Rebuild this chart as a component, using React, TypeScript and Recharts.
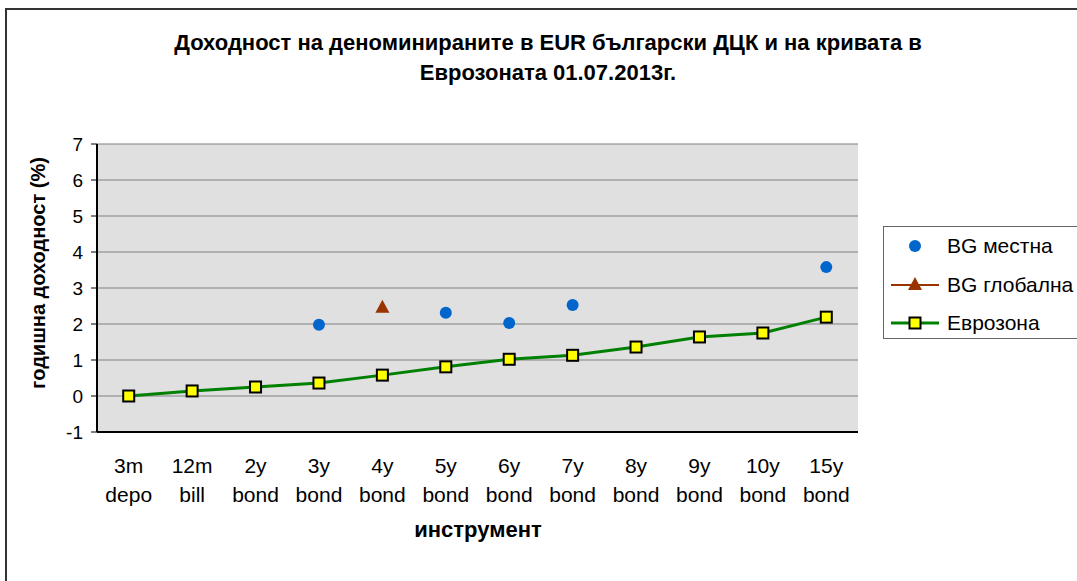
import React from "react";
import { LineChart, Line, XAxis, YAxis, CartesianGrid } from "recharts";

const tickTop = ["3m", "12m", "2y", "3y", "4y", "5y", "6y", "7y", "8y", "9y", "10y", "15y"];
const tickBottom = ["depo", "bill", "bond", "bond", "bond", "bond", "bond", "bond", "bond", "bond", "bond", "bond"];

const bgLocal = [null, null, null, 1.98, null, 2.31, 2.03, 2.53, null, null, null, 3.58];
const bgGlobal = [null, null, null, null, 2.45, null, null, null, null, null, null, null];
const eurozone = [0.0, 0.14, 0.25, 0.36, 0.58, 0.81, 1.02, 1.13, 1.36, 1.64, 1.75, 2.19];

const yTicks = [-1, 0, 1, 2, 3, 4, 5, 6, 7];

const data = tickTop.map((t, i) => ({
  pos: i + 0.5,
  local: bgLocal[i],
  global: bgGlobal[i],
  euro: eurozone[i],
}));

const FONT = "'Liberation Sans', Arial, sans-serif";

const boundaryTicks = tickTop.map((_, i) => i).concat([tickTop.length]);
const labelTicks = data.map((d) => d.pos);

const LabelTick = (props: any) => {
  const { x, y, payload } = props;
  const i = Math.floor(payload.value);
  return (
    <text x={x} y={y} textAnchor="middle" fontFamily={FONT} fontSize={21} fill="#000">
      <tspan x={x} dy={27}>{tickTop[i]}</tspan>
      <tspan x={x} dy={29}>{tickBottom[i]}</tspan>
    </text>
  );
};

const Triangle = (props: any) => {
  const { cx, cy, value } = props;
  if (value == null || cx == null) return null;
  return <polygon points={`${cx},${cy - 8} ${cx + 7},${cy + 5} ${cx - 7},${cy + 5}`} fill="#993300" />;
};

const Square = (props: any) => {
  const { cx, cy } = props;
  if (cx == null) return null;
  return <rect x={cx - 5.5} y={cy - 5.5} width={11} height={11} fill="#ffff00" stroke="#000" strokeWidth={2} />;
};

const Circle = (props: any) => {
  const { cx, cy, value } = props;
  if (value == null || cx == null) return null;
  return <circle cx={cx} cy={cy} r={6} fill="#0066cc" />;
};

export default function App() {
  return (
    <div style={{ position: "fixed", left: 0, top: 0, width: 1077, height: 581, background: "#fff", fontFamily: FONT }}>
      <div style={{ position: "absolute", left: 5, top: 8, width: 1072, height: 573, borderLeft: "2px solid #333", borderTop: "2px solid #333" }} />
      <div style={{ position: "absolute", left: 0, top: 28, width: 1096, textAlign: "center", fontWeight: "bold", fontSize: 22, lineHeight: "30px", color: "#000" }}>
        Доходност на деноминираните в EUR български ДЦК и на кривата в
        <br />
        Еврозоната 01.07.2013г.
      </div>
      <LineChart width={1077} height={581} data={data} margin={{ top: 144, right: 219, bottom: 63, left: 57 }} style={{ position: "absolute", left: 0, top: 0 }}>
        <CartesianGrid vertical={false} stroke="#808080" fill="#e0e0e0" yAxisId="left" xAxisId="grid" />
        <XAxis xAxisId="grid" type="number" dataKey="pos" domain={[0, 12]} ticks={boundaryTicks} tick={false} tickSize={6} height={6} axisLine={{ stroke: "#000", strokeWidth: 2 }} tickLine={{ stroke: "#000" }} />
        <XAxis xAxisId="lab" type="number" dataKey="pos" domain={[0, 12]} ticks={labelTicks} tick={<LabelTick />} axisLine={false} tickLine={false} height={80} interval={0} />
        <XAxis xAxisId="top" orientation="top" type="number" dataKey="pos" domain={[0, 12]} tick={false} tickLine={false} height={0} axisLine={{ stroke: "#333", strokeWidth: 2 }} />
        <YAxis yAxisId="left" domain={[-1, 7]} ticks={yTicks} width={40} tickSize={6} tickMargin={8} interval={0} tick={{ fill: "#000", fontSize: 19, fontFamily: FONT }} axisLine={{ stroke: "#000", strokeWidth: 2 }} tickLine={{ stroke: "#000" }} />
        <YAxis yAxisId="right" orientation="right" domain={[-1, 7]} width={0} tick={false} tickLine={false} axisLine={{ stroke: "#333", strokeWidth: 2 }} />
        <Line xAxisId="grid" yAxisId="left" dataKey="euro" stroke="#008000" strokeWidth={3} dot={<Square />} isAnimationActive={false} />
        <Line xAxisId="grid" yAxisId="left" dataKey="local" stroke="none" dot={<Circle />} activeDot={false} isAnimationActive={false} />
        <Line xAxisId="grid" yAxisId="left" dataKey="global" stroke="#993300" strokeWidth={2} dot={<Triangle />} activeDot={false} isAnimationActive={false} />
      </LineChart>
      <div style={{ position: "absolute", left: 38, top: 273, transform: "translate(-50%, -50%) rotate(-90deg)", whiteSpace: "nowrap", fontWeight: "bold", fontSize: 20, color: "#000" }}>
        годишна доходност (%)
      </div>
      <div style={{ position: "absolute", left: 478, top: 530, transform: "translate(-50%, -50%)", whiteSpace: "nowrap", fontWeight: "bold", fontSize: 22, color: "#000" }}>
        инструмент
      </div>
      <div style={{ position: "absolute", left: 883, top: 226, width: 200, height: 113, border: "1px solid #666", boxSizing: "border-box" }}>
        <svg width={60} height={113} style={{ position: "absolute", left: 0, top: 0 }}>
          <circle cx={31} cy={19} r={6} fill="#0066cc" />
          <line x1={7} x2={55} y1={58} y2={58} stroke="#993300" strokeWidth={2} />
          <polygon points="31,50 38,63 24,63" fill="#993300" />
          <line x1={7} x2={55} y1={96} y2={96} stroke="#008000" strokeWidth={3} />
          <rect x={25.5} y={90.5} width={11} height={11} fill="#ffff00" stroke="#000" strokeWidth={2} />
        </svg>
        <div style={{ position: "absolute", left: 63, top: 7, fontSize: 21, lineHeight: "24px" }}>BG местна</div>
        <div style={{ position: "absolute", left: 63, top: 46, fontSize: 21, lineHeight: "24px" }}>BG глобална</div>
        <div style={{ position: "absolute", left: 63, top: 84, fontSize: 21, lineHeight: "24px" }}>Еврозона</div>
      </div>
    </div>
  );
}
